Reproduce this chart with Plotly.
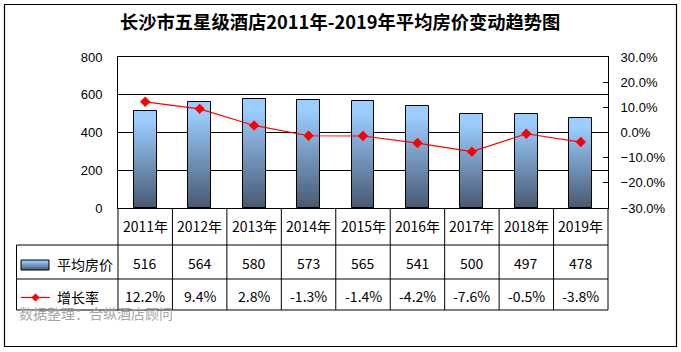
import plotly.graph_objects as go

# ---- data ----
years = ["2011年", "2012年", "2013年", "2014年", "2015年", "2016年", "2017年", "2018年", "2019年"]
avg_price = [516, 564, 580, 573, 565, 541, 500, 497, 478]
growth = [0.122, 0.094, 0.028, -0.013, -0.014, -0.042, -0.076, -0.005, -0.038]
growth_labels = ["12.2%", "9.4%", "2.8%", "-1.3%", "-1.4%", "-4.2%", "-7.6%", "-0.5%", "-3.8%"]
title = "长沙市五星级酒店2011年-2019年平均房价变动趋势图"
series_names = ["平均房价", "增长率"]
source = "数据整理：合纵酒店顾问"

W_PX, H_PX = 681, 352
L, R, T, B = 118, 608, 57, 208
PW, PH = R - L, B - T


def px(x):
    return (x - L) / PW


def py(y):
    return (B - y) / PH


CJK = "Noto Sans CJK SC"
ARIAL = "Liberation Sans"

top_c = (155, 206, 255)
bot_c = (72, 88, 114)


def grad(t):
    # t: 0 bottom -> 1 top
    t = min(1.0, t / 0.9)
    c = [round(bot_c[i] + (top_c[i] - bot_c[i]) * t) for i in range(3)]
    return "rgb(%d,%d,%d)" % tuple(c)


xs = list(range(len(years)))
BW = 0.42
fig = go.Figure()

N = 40
for k in range(N):
    fig.add_trace(go.Bar(
        x=xs, y=[v * (1 - k / N) for v in avg_price], base=[v * k / N for v in avg_price],
        width=BW, marker=dict(color=grad((k + 0.5) / N), line=dict(width=0)),
        showlegend=False, hoverinfo="skip", yaxis="y"))
fig.add_trace(go.Bar(
    x=xs, y=avg_price, width=BW, name=series_names[0],
    marker=dict(color="rgba(0,0,0,0)", line=dict(color="black", width=1)),
    showlegend=False, yaxis="y"))
fig.add_trace(go.Scatter(
    x=xs, y=growth, mode="lines+markers", name=series_names[1], yaxis="y2",
    line=dict(color="#FF0000", width=1.2),
    marker=dict(symbol="diamond", size=8, color="#FF0000"),
    showlegend=False))

shapes = []
annotations = []


def hline(x0, x1, y, w=1, color="black"):
    shapes.append(dict(type="line", xref="paper", yref="paper", x0=px(x0), x1=px(x1),
                       y0=py(y), y1=py(y), line=dict(color=color, width=w)))


def vline(x, y0, y1, w=1, color="black"):
    shapes.append(dict(type="line", xref="paper", yref="paper", x0=px(x), x1=px(x),
                       y0=py(y0), y1=py(y1), line=dict(color=color, width=w)))


def text(x, y, s, size=14, color="black", family=CJK, xanchor="center"):
    annotations.append(dict(x=px(x), y=py(y), xref="paper", yref="paper", text=s,
                            xanchor=xanchor, yanchor="middle", showarrow=False,
                            font=dict(family=family, size=size, color=color)))


# outer border
shapes.append(dict(type="rect", xref="paper", yref="paper", x0=px(4.5), x1=px(676.5),
                   y0=py(4.5), y1=py(346.5), line=dict(color="black", width=1.2)))

# table grid
TL = 16.5
r1, r2, r3 = 245, 279, 310
colw = PW / len(years)
for i in range(len(years) + 1):
    vline(L + i * colw, B, r3)
vline(TL, r1, r3)
hline(TL, R, r1)
hline(TL, R, r2)
hline(TL, R, r3)

# table texts
for i, yr in enumerate(years):
    cx = L + (i + 0.5) * colw
    text(cx, 226, yr)
    text(cx, 263, str(avg_price[i]))
    text(cx, 296, growth_labels[i])

# legend cells
sx0, sx1, sy0, sy1 = 21, 49, 260, 270
ns = 10
for k in range(ns):
    ya = sy1 - (sy1 - sy0) * k / ns
    yb = sy1 - (sy1 - sy0) * (k + 1) / ns
    shapes.append(dict(type="rect", xref="paper", yref="paper", x0=px(sx0), x1=px(sx1),
                       y0=py(ya), y1=py(yb), line=dict(width=0), fillcolor=grad((k + 0.5) / ns)))
shapes.append(dict(type="rect", xref="paper", yref="paper", x0=px(sx0), x1=px(sx1),
                   y0=py(sy0), y1=py(sy1), line=dict(color="black", width=1)))
text(55, 264, series_names[0], xanchor="left")

ly = 297.5
hline(21, 50, ly, w=1.2, color="#FF0000")
cxm, d = 35.5, 3.8
path = "M %f %f L %f %f L %f %f L %f %f Z" % (
    px(cxm), py(ly - d), px(cxm + d), py(ly), px(cxm), py(ly + d), px(cxm - d), py(ly))
shapes.append(dict(type="path", xref="paper", yref="paper", path=path,
                   fillcolor="#FF0000", line=dict(color="#FF0000", width=0.5)))
text(55, 297, series_names[1], xanchor="left")

# source
text(17, 313, source, color="#A6A6A6", xanchor="left")

# title
text(340, 21, "<b>" + title + "</b>", size=18.3, family=CJK)

fig.update_layout(
    width=W_PX, height=H_PX,
    margin=dict(l=L, r=W_PX - R, t=T, b=H_PX - B, pad=0),
    paper_bgcolor="white", plot_bgcolor="white",
    barmode="overlay", bargap=0,
    showlegend=False,
    xaxis=dict(range=[-0.5, len(years) - 0.5], showticklabels=False, ticks="",
               showgrid=False, zeroline=False, showline=True, linecolor="black",
               linewidth=1, mirror=True, fixedrange=True),
    yaxis=dict(range=[0, 800], dtick=200, tick0=0, showgrid=True, gridcolor="black", gridwidth=1,
               zeroline=False, showline=True, linecolor="black", linewidth=1, mirror=True,
               ticks="", ticklabelstandoff=12,
               tickfont=dict(family=ARIAL, size=13, color="black")),
    yaxis2=dict(range=[-0.3, 0.3], dtick=0.1, tick0=0, tickformat=".1%", overlaying="y", side="right",
                showgrid=False, zeroline=False, showline=True, linecolor="black", linewidth=1,
                ticks="inside", ticklen=5, tickcolor="black", ticklabelstandoff=9,
                tickfont=dict(family=ARIAL, size=13, color="black")),
    shapes=shapes, annotations=annotations,
)

fig.write_html("out.html")
